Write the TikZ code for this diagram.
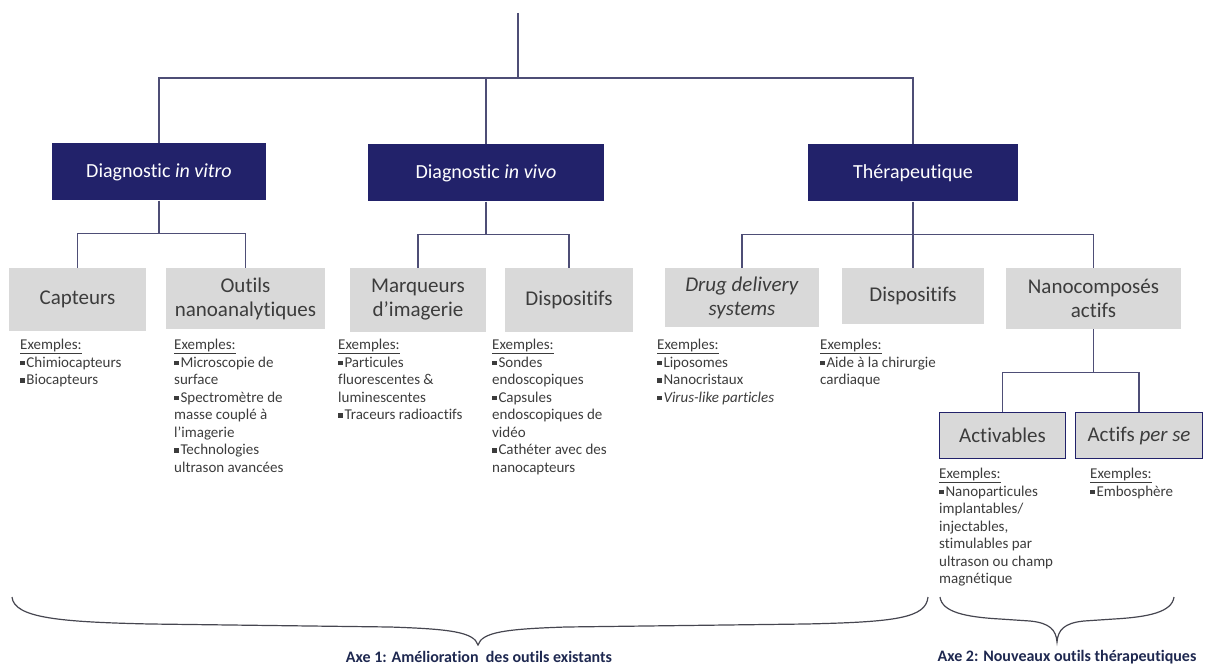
\documentclass[tikz,border=0pt]{standalone}
\usepackage{fontspec}
\setmainfont{Carlito}[Ligatures={NoCommon}]
\usepackage{xcolor}

\definecolor{navy}{RGB}{34,34,106}
\definecolor{boxgray}{RGB}{217,217,217}
\definecolor{linec}{RGB}{78,78,118}
\definecolor{darktext}{RGB}{60,60,60}
\definecolor{bracec}{RGB}{70,70,80}
\definecolor{axec}{RGB}{30,40,80}

\newcommand{\puce}{\raisebox{0.28ex}{\rule{0.3em}{0.3em}}\hspace{0.12em}}

\begin{document}
\begin{tikzpicture}[
  x=1pt, y=-1pt,
  cat/.style={fill=navy,text=white,minimum height=57pt,inner sep=0pt,font=\fontsize{20}{24}\selectfont},
  sub/.style={fill=boxgray,text=darktext,align=center,inner sep=0pt,font=\fontsize{21}{24}\selectfont},
  subframed/.style={sub,draw=navy,line width=1.4pt},
  ex/.style={anchor=north west,align=left,inner sep=0pt,text=darktext,font=\fontsize{15}{17.5}\selectfont},
  lien/.style={draw=linec,line width=1.1pt},
  accol/.style={draw=bracec,line width=1.2pt},
  axe/.style={text=axec,inner sep=0pt,font=\bfseries\fontsize{16}{19}\selectfont}
]
  \useasboundingbox (0,0) rectangle (1211,666);

  % niveau 1
  \node[cat, minimum width=214pt] (dvitro) at (159,172) {Diagnostic \textit{in vitro}};
  \node[cat, minimum width=236pt] (dvivo) at (486,173) {Diagnostic \textit{in vivo}};
  \node[cat, minimum width=210pt] (thera) at (913,173) {Thérapeutique};

  % niveau 2
  \node[sub, minimum width=137pt, minimum height=63pt] (capteurs) at (77.5,299.5) {Capteurs};
  \node[sub, minimum width=159pt, minimum height=61pt] (outils) at (245.5,298.5) {Outils\\nanoanalytiques};
  \node[sub, minimum width=136pt, minimum height=64pt] (marqueurs) at (418,300) {Marqueurs\\d’imagerie};
  \node[sub, minimum width=128pt, minimum height=64pt] (dispoA) at (569,300) {Dispositifs};
  \node[sub, minimum width=154pt, minimum height=59pt] (drug) at (742,297.5) {\textit{Drug delivery}\\\textit{systems}};
  \node[sub, minimum width=142pt, minimum height=56pt] (dispoB) at (913,296) {Dispositifs};
  \node[sub, minimum width=175pt, minimum height=61pt] (nano) at (1093.5,298.5) {Nanocomposés\\actifs};

  % niveau 3
  \node[subframed, minimum width=126pt, minimum height=46pt] (activ) at (1002.5,435.5) {Activables};
  \node[subframed, minimum width=127pt, minimum height=46pt] (actifs) at (1139,435.5) {Actifs \textit{per se}};

  % exemples
  \node[ex] (exCapteurs) at (20,339) {\underline{Exemples:}\\\puce Chimiocapteurs\\\puce Biocapteurs};
  \node[ex] (exOutils) at (174,339) {\underline{Exemples:}\\\puce Microscopie de\\surface\\\puce Spectromètre de\\masse couplé à\\l’imagerie\\\puce Technologies\\ultrason avancées};
  \node[ex] (exMarqueurs) at (338,339) {\underline{Exemples:}\\\puce Particules\\fluorescentes \&\\luminescentes\\\puce Traceurs radioactifs};
  \node[ex] (exDispoA) at (492,339) {\underline{Exemples:}\\\puce Sondes\\endoscopiques\\\puce Capsules\\endoscopiques de\\vidéo\\\puce Cathéter avec des\\nanocapteurs};
  \node[ex] (exDrug) at (657,339) {\underline{Exemples:}\\\puce Liposomes\\\puce Nanocristaux\\\puce \textit{Virus-like particles}};
  \node[ex] (exDispoB) at (820,339) {\underline{Exemples:}\\\puce Aide à la chirurgie\\cardiaque};
  \node[ex] (exActiv) at (939,468) {\underline{Exemples:}\\\puce Nanoparticules\\implantables/\\injectables,\\stimulables par\\ultrason ou champ\\magnétique};
  \node[ex] (exActifs) at (1090,468) {\underline{Exemples:}\\\puce Embosphère};

  % liens
  \coordinate (racine) at (518,13);
  \coordinate (barre) at (518,78);
  \draw[lien] (racine) -- (barre);
  \draw[lien] (dvitro.north) |- (barre) -| (thera.north);
  \draw[lien] (dvivo.north) -- (dvivo.north |- barre);

  \draw[lien] (dvitro.south) -- +(0,33) coordinate (j1);
  \draw[lien] (capteurs.north) |- (j1) -| (outils.north);
  \draw[lien] (dvivo.south) -- +(0,33) coordinate (j2);
  \draw[lien] (marqueurs.north) |- (j2) -| (dispoA.north);
  \draw[lien] (thera.south) -- +(0,33) coordinate (j3);
  \draw[lien] (drug.north) |- (j3) -| (nano.north);
  \draw[lien] (dispoB.north) -- (j3);
  \draw[lien] (nano.south) -- +(0,43) coordinate (j4);
  \draw[lien] (activ.north) |- (j4) -| (actifs.north);

  % accolades
  \draw[accol] (12,597) .. controls (14,618) and (60,622) .. (150,624) -- (390,627)
    .. controls (450,629) and (474,632) .. (478,645)
    .. controls (482,632) and (506,629) .. (566,627) -- (806,624)
    .. controls (896,622) and (926,618) .. (928,597);
  \draw[accol] (940,597) .. controls (942,612) and (965,617) .. (1000,619) -- (1030,621)
    .. controls (1050,623) and (1056,630) .. (1057,642)
    .. controls (1058,630) and (1064,623) .. (1084,621) -- (1114,619)
    .. controls (1149,617) and (1172,612) .. (1174,597);

  \node[axe] (axeA) at (479,657) {Axe 1: Amélioration~ des outils existants};
  \node[axe] (axeB) at (1067,657) {Axe 2: Nouveaux outils thérapeutiques};
\end{tikzpicture}
\end{document}
